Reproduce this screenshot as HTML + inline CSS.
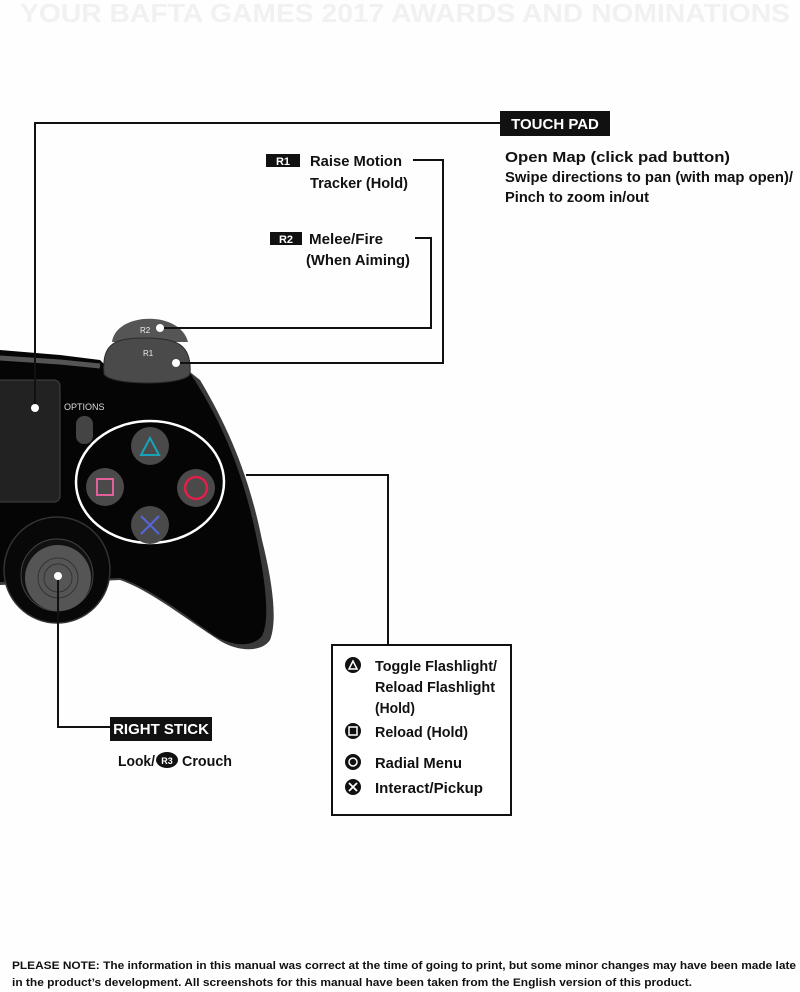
<!DOCTYPE html>
<html><head><meta charset="utf-8"><style>
html,body{margin:0;padding:0;background:#fefefe;}
svg{display:block}
text{font-family:"Liberation Sans Narrow","Liberation Sans",sans-serif;font-weight:bold;fill:#111;}
</style></head><body>
<svg width="800" height="992" viewBox="0 0 800 992" xmlns="http://www.w3.org/2000/svg">
<rect width="800" height="992" fill="#fefefe"/>
<text x="20" y="22" font-size="26" style="fill:#f1f1f1" textLength="770" lengthAdjust="spacingAndGlyphs">YOUR BAFTA GAMES 2017 AWARDS AND NOMINATIONS</text>

<!-- controller body -->
<path d="M0,352 L60,357 L100,362 L110,370 L190,372 L200,380 C230,430 250,480 262,540 C272,580 278,620 270,640 C262,652 240,652 222,642 C190,622 150,590 120,580 L0,585 Z" fill="#3a3a3a"/>
<path d="M0,350 L60,355 L100,360 L108,368 L188,370 C225,425 245,480 257,540 C266,585 270,620 262,636 C252,648 232,646 215,636 C185,615 150,588 120,578 L0,582 Z" fill="#050505"/>
<path d="M0,358 L60,362 L100,366" stroke="#555" stroke-width="5" fill="none"/>
<rect x="-10" y="380" width="70" height="122" rx="6" fill="#222" stroke="#444"/>
<path d="M112,342 C116,312 180,310 188,342 Z" fill="#555"/>
<path d="M104,374 C102,345 112,338 145,338 C178,338 192,345 190,374 C185,386 110,386 104,374 Z" fill="#4a4a4a" stroke="#2a2a2a"/>
<text x="140" y="333" font-size="8" style="fill:#eee;font-weight:normal">R2</text>
<text x="143" y="356" font-size="8" style="fill:#eee;font-weight:normal">R1</text>
<circle cx="160" cy="328" r="4" fill="#fff"/>
<circle cx="176" cy="363" r="4" fill="#fff"/>
<text x="64" y="410" font-size="9" style="fill:#ddd;font-weight:normal;font-family:'Liberation Sans',sans-serif">OPTIONS</text>
<rect x="76" y="416" width="17" height="28" rx="8" fill="#444"/>
<ellipse cx="150" cy="482" rx="74" ry="61" fill="none" stroke="#fff" stroke-width="2.5"/>
<circle cx="150" cy="446" r="19" fill="#4a4a4a"/>
<path d="M141,455 L150,438 L159,455 Z" fill="none" stroke="#19a2b8" stroke-width="2"/>
<circle cx="105" cy="487" r="19" fill="#4a4a4a"/>
<rect x="97" y="479" width="16" height="16" fill="none" stroke="#e0609a" stroke-width="2"/>
<circle cx="196" cy="488" r="19" fill="#4a4a4a"/>
<circle cx="196" cy="488" r="11" fill="none" stroke="#e0204a" stroke-width="2.5"/>
<circle cx="150" cy="525" r="19" fill="#4a4a4a"/>
<path d="M141,516 L159,534 M159,516 L141,534" stroke="#5566dd" stroke-width="2"/>
<circle cx="57" cy="570" r="53" fill="#080808" stroke="#333" stroke-width="1.5"/>
<circle cx="57" cy="575" r="36" fill="#111" stroke="#444"/>
<circle cx="58" cy="578" r="33" fill="#555"/>
<circle cx="58" cy="578" r="20" fill="none" stroke="#333"/>
<circle cx="58" cy="578" r="14" fill="none" stroke="#333"/>
<circle cx="58" cy="576" r="4" fill="#fff"/>
<circle cx="35" cy="408" r="4" fill="#fff"/>

<g stroke="#111" stroke-width="2" fill="none">
<path d="M35,404 V123 H500"/>
<path d="M413,160 H443 V363 H180"/>
<path d="M415,238 H431 V328 H164"/>
<path d="M246,475 H388 V645"/>
<path d="M58,580 V727 H110"/>
</g>
<rect x="332" y="645" width="179" height="170" fill="#fff" stroke="#111" stroke-width="2"/>

<rect x="500" y="111" width="110" height="25" fill="#111"/>
<text x="555" y="129" font-size="15" text-anchor="middle" style="fill:#fff">TOUCH PAD</text>
<text x="505" y="162" font-size="15" textLength="225" lengthAdjust="spacingAndGlyphs">Open Map (click pad button)</text>
<text x="505" y="182" font-size="15" textLength="288" lengthAdjust="spacingAndGlyphs">Swipe directions to pan (with map open)/</text>
<text x="505" y="202" font-size="15" textLength="144" lengthAdjust="spacingAndGlyphs">Pinch to zoom in/out</text>

<rect x="266" y="154" width="34" height="13" fill="#111"/>
<text x="283" y="165" font-size="11" text-anchor="middle" style="fill:#fff">R1</text>
<text x="310" y="166" font-size="15" textLength="92" lengthAdjust="spacingAndGlyphs">Raise Motion</text>
<text x="310" y="188" font-size="15" textLength="98" lengthAdjust="spacingAndGlyphs">Tracker (Hold)</text>
<rect x="270" y="232" width="32" height="13" fill="#111"/>
<text x="286" y="243" font-size="11" text-anchor="middle" style="fill:#fff">R2</text>
<text x="309" y="244" font-size="15" textLength="74" lengthAdjust="spacingAndGlyphs">Melee/Fire</text>
<text x="306" y="265" font-size="15" textLength="104" lengthAdjust="spacingAndGlyphs">(When Aiming)</text>

<circle cx="353" cy="665" r="8" fill="#111"/><path d="M349,669 L353,661 L357,669 Z" fill="none" stroke="#fff" stroke-width="1.5"/>
<text x="375" y="671" font-size="15" textLength="122" lengthAdjust="spacingAndGlyphs">Toggle Flashlight/</text>
<text x="375" y="692" font-size="15" textLength="120" lengthAdjust="spacingAndGlyphs">Reload Flashlight</text>
<text x="375" y="713" font-size="15" textLength="40" lengthAdjust="spacingAndGlyphs">(Hold)</text>
<circle cx="353" cy="731" r="8" fill="#111"/><rect x="349" y="727" width="8" height="8" fill="none" stroke="#fff" stroke-width="1.5"/>
<text x="375" y="737" font-size="15" textLength="93" lengthAdjust="spacingAndGlyphs">Reload (Hold)</text>
<circle cx="353" cy="762" r="8" fill="#111"/><circle cx="353" cy="762" r="4" fill="none" stroke="#fff" stroke-width="1.5"/>
<text x="375" y="768" font-size="15" textLength="87" lengthAdjust="spacingAndGlyphs">Radial Menu</text>
<circle cx="353" cy="787" r="8" fill="#111"/><path d="M349,783 L357,791 M357,783 L349,791" stroke="#fff" stroke-width="1.8"/>
<text x="375" y="793" font-size="15" textLength="108" lengthAdjust="spacingAndGlyphs">Interact/Pickup</text>

<rect x="110" y="717" width="102" height="24" fill="#111"/>
<text x="161" y="734" font-size="15" text-anchor="middle" style="fill:#fff">RIGHT STICK</text>
<text x="118" y="766" font-size="15" textLength="37" lengthAdjust="spacingAndGlyphs">Look/</text>
<ellipse cx="167" cy="760" rx="11" ry="8" fill="#111"/>
<text x="167" y="764" font-size="9" text-anchor="middle" style="fill:#fff">R3</text>
<text x="182" y="766" font-size="15" textLength="50" lengthAdjust="spacingAndGlyphs">Crouch</text>

<text x="12" y="969" font-size="11" textLength="784" lengthAdjust="spacingAndGlyphs">PLEASE NOTE: The information in this manual was correct at the time of going to print, but some minor changes may have been made late</text>
<text x="12" y="986" font-size="11" textLength="680" lengthAdjust="spacingAndGlyphs">in the product’s development. All screenshots for this manual have been taken from the English version of this product.</text>
</svg>
</body></html>
